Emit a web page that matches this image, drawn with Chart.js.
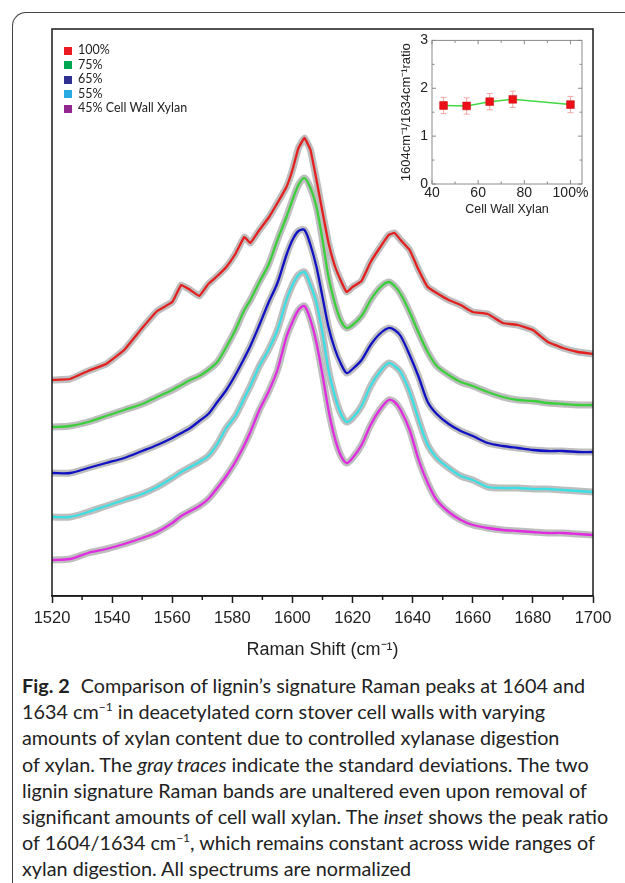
<!DOCTYPE html>
<html lang="en">
<head>
<meta charset="UTF-8">
<title>Fig. 2 Raman spectra</title>
<script src="https://cdn.jsdelivr.net/npm/chart.js"></script>
<style>
  body { margin: 0; width: 625px; height: 883px; overflow: hidden; background: #fff; position: relative; }
  .frame { position: absolute; left: 12px; top: 12px; width: 700px; height: 900px; border-left: 1.5px solid #444; border-top: 1.5px solid #444; border-top-left-radius: 14px; }
  #mainChart { position: absolute; left: 0; top: 0; }
  #insetChart { position: absolute; left: 385px; top: 28px; }
  #legend { position: absolute; left: 64px; top: 43px; font: 12.5px Lato, sans-serif; color: #222; }
  #legend div { height: 14.6px; line-height: 14.6px; white-space: nowrap; }
  #legend span { display: inline-block; width: 8px; height: 8px; margin-right: 6px; vertical-align: -0.5px; }
  .caption { position: absolute; left: 22px; top: 672px; font-family: Lato, sans-serif; font-size: 19.8px; line-height: 26.2px; color: #222; white-space: nowrap; }
  .caption b { font-weight: 700; margin-right: 6px; }
  .caption sup { font-size: 12px; line-height: 0; vertical-align: 8px; }
</style>
</head>
<body>
<div class="frame"></div>
<canvas id="mainChart" width="625" height="665"></canvas>
<canvas id="insetChart" width="215" height="200"></canvas>
<div id="legend"></div>
<div class="caption">
  <b>Fig. 2</b> Comparison of lignin’s signature Raman peaks at 1604 and<br>
  1634 cm<sup>−1</sup> in deacetylated corn stover cell walls with varying<br>
  amounts of xylan content due to controlled xylanase digestion<br>
  of xylan. The <i>gray traces</i> indicate the standard deviations. The two<br>
  lignin signature Raman bands are unaltered even upon removal of<br>
  significant amounts of cell wall xylan. The <i>inset</i> shows the peak ratio<br>
  of 1604/1634 cm<sup>−1</sup>, which remains constant across wide ranges of<br>
  xylan digestion. All spectrums are normalized
</div>

<script>
// Raman shift grid (cm-1)
const ramanShift = [1520, 1526, 1532, 1538, 1544, 1550, 1555, 1560, 1563, 1566, 1569, 1572, 1575, 1578, 1581, 1584, 1586, 1589, 1592, 1595, 1598, 1600, 1602, 1604, 1606, 1608, 1610, 1612, 1614, 1616, 1618, 1620, 1623, 1626, 1629, 1632, 1634, 1636, 1639, 1642, 1645, 1648, 1652, 1656, 1660, 1665, 1670, 1675, 1680, 1685, 1690, 1695, 1700];

// normalized intensities (offset for display), one per xylan level
const xylan100 = [216, 217, 225, 232, 246, 268, 285, 294, 311, 306, 300, 312, 320, 329, 342, 359, 353, 366, 378, 393, 409, 426, 448, 458, 446, 416, 384, 353, 331, 316, 304, 309, 315, 334, 348, 361, 363, 356, 346, 326, 309, 303, 296, 291, 284, 282, 273, 271, 266, 254, 248, 244, 242];
const xylan75 = [169, 170, 174, 180, 186, 192, 199, 206, 211, 216, 220, 226, 234, 249, 266, 286, 296, 314, 331, 356, 379, 396, 411, 418, 408, 389, 356, 319, 294, 276, 268, 271, 280, 296, 308, 314, 310, 302, 284, 263, 244, 230, 221, 214, 210, 204, 199, 196, 195, 193, 192, 191, 191];
const xylan65 = [123, 123, 128, 133, 138, 145, 151, 158, 163, 168, 175, 182, 194, 206, 221, 238, 250, 271, 293, 313, 341, 356, 365, 366, 351, 329, 299, 269, 248, 233, 223, 227, 236, 251, 262, 268, 266, 260, 241, 219, 194, 182, 172, 165, 160, 153, 150, 148, 146, 145, 145, 144, 144];
const xylan55 = [79, 79, 84, 90, 96, 102, 109, 118, 124, 129, 134, 140, 152, 168, 180, 198, 210, 230, 246, 266, 296, 311, 321, 324, 311, 293, 263, 226, 201, 183, 174, 178, 190, 210, 224, 233, 230, 224, 204, 176, 151, 138, 128, 120, 116, 109, 108, 108, 107, 107, 106, 105, 104];
const xylan45 = [36, 37, 43, 47, 52, 58, 64, 73, 80, 85, 90, 97, 108, 120, 134, 151, 164, 186, 204, 226, 259, 274, 286, 290, 276, 253, 221, 186, 159, 141, 133, 138, 151, 171, 186, 196, 194, 186, 166, 136, 113, 96, 84, 76, 71, 68, 66, 65, 64, 63, 63, 62, 61];

const seriesLabels = ['100%', '75%', '65%', '55%', '45% Cell Wall Xylan'];
const legendColors = ['#ed1c24', '#00a651', '#2e3192', '#29abe2', '#92278f'];
const lineColors = ['#e3201f', '#3ccf3c', '#1010c4', '#3be0e4', '#e02be0'];

// inset: 1604/1634 peak ratio
const xylanContent = [45, 55, 65, 75, 100];
const peakRatio = [1.64, 1.63, 1.72, 1.77, 1.66];
const ratioError = [0.17, 0.17, 0.17, 0.17, 0.17];

const tickFont = { family: '"Liberation Sans", Arial, sans-serif', size: 16.5 };

// legend
const legendBox = document.getElementById('legend');
seriesLabels.forEach((label, i) => {
  const row = document.createElement('div');
  row.innerHTML = '<span style="background:' + legendColors[i] + '"></span>' + label;
  legendBox.appendChild(row);
});

const spectra = [xylan100, xylan75, xylan65, xylan55, xylan45];
const datasets = [];
spectra.forEach((s, i) => {
  const pts = s.map((v, j) => ({ x: ramanShift[j], y: v }));
  const smooth = i === 0 ? 0.1 : 0.3;
  // gray trace = standard deviation
  datasets.push({ data: pts, borderColor: '#bebebe', borderWidth: 7, pointRadius: 0, order: 2, tension: smooth, borderJoinStyle: 'round' });
  datasets.push({ label: seriesLabels[i], data: pts, borderColor: lineColors[i], borderWidth: 2.3, pointRadius: 0, order: 1, tension: smooth });
});

const mainFrame = {
  id: 'mainFrame',
  afterDraw(chart) {
    const { ctx, chartArea: a, scales: { x } } = chart;
    ctx.save();
    ctx.strokeStyle = '#1a1a1a';
    ctx.lineWidth = 1.5;
    ctx.strokeRect(a.left, a.top, a.right - a.left, a.bottom - a.top);
    ctx.beginPath();
    for (let v = 1530; v < 1700; v += 20) {
      const px = x.getPixelForValue(v);
      ctx.moveTo(px, a.bottom);
      ctx.lineTo(px, a.bottom + 4);
    }
    ctx.stroke();
    ctx.restore();
  }
};

new Chart(document.getElementById('mainChart'), {
  type: 'line',
  data: { datasets: datasets },
  options: {
    responsive: false,
    animation: false,
    layout: { padding: { left: 52, right: 32, top: 29, bottom: 0 } },
    plugins: { legend: { display: false }, tooltip: { enabled: false } },
    scales: {
      x: {
        type: 'linear', min: 1520, max: 1700,
        afterFit: s => { s.height = 69; },
        ticks: { stepSize: 20, font: tickFont, color: '#222', padding: 6, maxRotation: 0, callback: v => String(v) },
        grid: { drawOnChartArea: false, tickLength: 7, color: '#1a1a1a', tickWidth: 1.5 },
        border: { color: '#1a1a1a', width: 1.5 },
        title: { display: true, text: 'Raman Shift (cm⁻¹)', color: '#222', font: { family: tickFont.family, size: 18 }, padding: { top: 0, bottom: 4 } }
      },
      y: { display: false, min: 0, max: 567 }
    }
  },
  plugins: [mainFrame]
});

// inset
const errorBars = {
  id: 'errorBars',
  beforeDatasetsDraw(chart) {
    const { ctx, scales: { x, y } } = chart;
    ctx.save();
    ctx.strokeStyle = '#f4a6a6';
    ctx.lineWidth = 1;
    ctx.beginPath();
    xylanContent.forEach((v, i) => {
      const px = x.getPixelForValue(v);
      const t = y.getPixelForValue(peakRatio[i] + ratioError[i]);
      const b = y.getPixelForValue(peakRatio[i] - ratioError[i]);
      ctx.moveTo(px, t); ctx.lineTo(px, b);
      ctx.moveTo(px - 3, t); ctx.lineTo(px + 3, t);
      ctx.moveTo(px - 3, b); ctx.lineTo(px + 3, b);
    });
    ctx.stroke();
    ctx.restore();
  }
};

const insetFrame = {
  id: 'insetFrame',
  afterDraw(chart) {
    const { ctx, chartArea: a, scales: { x, y } } = chart;
    ctx.save();
    ctx.strokeStyle = '#8a8a8a';
    ctx.lineWidth = 1;
    ctx.strokeRect(a.left, a.top, a.right - a.left, a.bottom - a.top);
    ctx.beginPath();
    for (let v = 40; v <= 100; v += 10) {
      const px = x.getPixelForValue(v);
      const len = v % 20 === 0 ? 4 : 2.5;
      ctx.moveTo(px, a.bottom); ctx.lineTo(px, a.bottom - len);
      ctx.moveTo(px, a.top); ctx.lineTo(px, a.top + len);
    }
    for (let v = 0; v <= 3; v += 0.5) {
      const py = y.getPixelForValue(v);
      const len = v % 1 === 0 ? 4 : 2.5;
      ctx.moveTo(a.left, py); ctx.lineTo(a.left + len, py);
      ctx.moveTo(a.right, py); ctx.lineTo(a.right - len, py);
    }
    ctx.stroke();
    ctx.restore();
  }
};

new Chart(document.getElementById('insetChart'), {
  type: 'line',
  data: {
    datasets: [{
      data: xylanContent.map((v, i) => ({ x: v, y: peakRatio[i] })),
      borderColor: '#44d844', borderWidth: 1.6,
      pointStyle: 'rect', pointRadius: 5.5,
      pointBackgroundColor: '#ec1018', pointBorderColor: '#c40000', pointBorderWidth: 0.5
    }]
  },
  options: {
    responsive: false,
    animation: false,
    layout: { padding: { top: 10, right: 18, left: 0, bottom: 0 } },
    plugins: { legend: { display: false }, tooltip: { enabled: false } },
    scales: {
      x: {
        type: 'linear', min: 40, max: 105,
        afterFit: s => { s.height = 44; },
        ticks: { stepSize: 20, includeBounds: false, color: '#222', padding: 1, maxRotation: 0,
          font: { family: tickFont.family, size: 14 },
          callback: v => (v === 100 ? '100%' : String(v)) },
        grid: { display: false, drawTicks: false },
        border: { display: false },
        title: { display: true, text: 'Cell Wall Xylan', color: '#222', font: { family: tickFont.family, size: 12.5 }, padding: { top: 0, bottom: 10.5 } }
      },
      y: {
        min: 0, max: 3,
        afterFit: s => { s.width = 47; },
        ticks: { stepSize: 1, color: '#222', padding: 4, font: { family: tickFont.family, size: 14 } },
        grid: { display: false, drawTicks: false },
        border: { display: false },
        title: { display: true, text: '1604cm⁻¹/1634cm⁻¹ratio', color: '#222', font: { family: tickFont.family, size: 13 }, padding: { top: 14, bottom: 0 } }
      }
    }
  },
  plugins: [errorBars, insetFrame]
});
</script>
</body>
</html>
